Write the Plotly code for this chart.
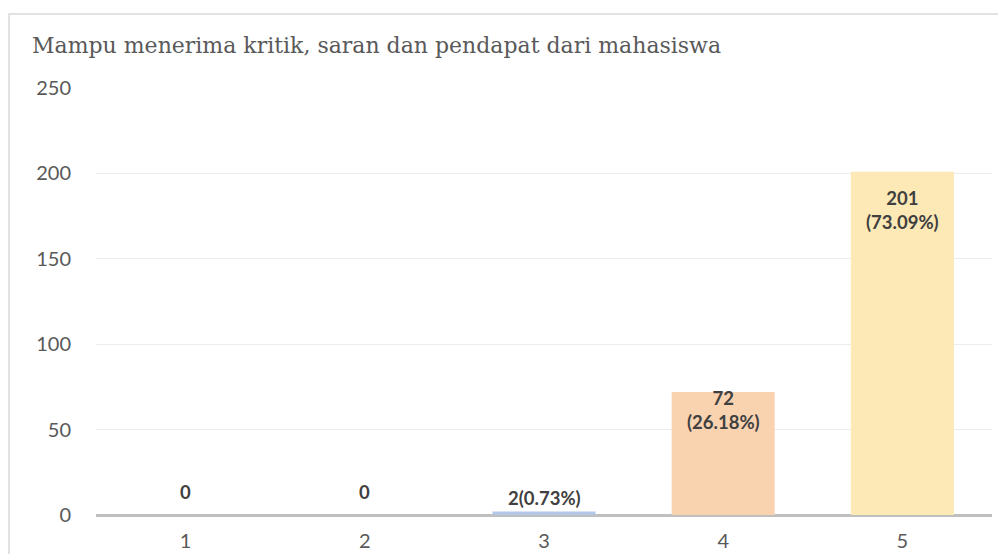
import plotly.graph_objects as go

# Jumlah responden per skor penilaian
categories = ["1", "2", "3", "4", "5"]
counts = [0, 0, 2, 72, 201]
percents = [None, None, 0.73, 26.18, 73.09]
title_text = "Mampu menerima kritik, saran dan pendapat dari mahasiswa"
y_ticks = [0, 50, 100, 150, 200, 250]

bar_colors = ["#b4c7e7", "#b4c7e7", "#b4c7e7", "#f9d2b0", "#fde9b6"]

# label text, built from the values
labels = []
for c, p in zip(counts, percents):
    if p is None:
        labels.append(f"<b>{c}</b>")
    elif c < 10:
        labels.append(f"<b>{c}({p:.2f}%)</b>")
    else:
        labels.append(f"<b>{c}<br>({p:.2f}%)</b>")

# vertical pixel offset of each label relative to its bar top
label_shift = [23, 23, 14, -18, -38]

fig = go.Figure()
fig.add_trace(go.Bar(
    x=categories,
    y=counts,
    marker=dict(color=bar_colors, line=dict(width=0)),
    width=0.575,
    hoverinfo="skip",
))

for i, (c, txt, dy) in enumerate(zip(counts, labels, label_shift)):
    fig.add_annotation(
        x=i, y=c, xref="x", yref="y",
        text=txt, showarrow=False,
        yshift=dy, yanchor="middle",
        font=dict(family="Lato, Carlito, sans-serif", size=18.5, color="#404040"),
        align="center",
    )

L, R, T, B = 96, 6, 88, 39
W, H = 998, 554
pw, ph = W - L - R, H - T - B

# outer chart border
fig.add_shape(
    type="rect", xref="paper", yref="paper",
    x0=(9 - L) / pw, x1=(W + 10 - L) / pw,
    y0=(H - B - (H + 10)) / ph, y1=(H - B - 14) / ph,
    line=dict(color="#d9d9d9", width=1.5), fillcolor="rgba(0,0,0,0)",
    layer="below",
)

fig.update_layout(
    width=W, height=H,
    margin=dict(l=L, r=R, t=T, b=B, pad=0, autoexpand=False),
    paper_bgcolor="white", plot_bgcolor="white",
    showlegend=False,
    title=dict(
        text=title_text,
        x=32 / W, xanchor="left",
        y=1 - 45 / H, yanchor="middle",
        font=dict(family="DejaVu Serif, serif", size=22, color="#595959"),
    ),
    xaxis=dict(
        type="category", range=[-0.5, 4.5], automargin=False,
        showgrid=False, showline=False, zeroline=False,
        ticks="", tickfont=dict(family="Lato, Carlito, sans-serif", size=20, color="#595959"),
        ticklabelstandoff=12,
    ),
    yaxis=dict(
        range=[0, 250], tickvals=y_ticks, automargin=False,
        showgrid=True, gridcolor="#ececec", gridwidth=1,
        zeroline=True, zerolinecolor="#bfbfbf", zerolinewidth=2.5,
        showline=False, ticks="",
        tickfont=dict(family="Lato, Carlito, sans-serif", size=20, color="#595959"),
        ticklabelstandoff=24,
    ),
)

fig.write_html("out.html")
